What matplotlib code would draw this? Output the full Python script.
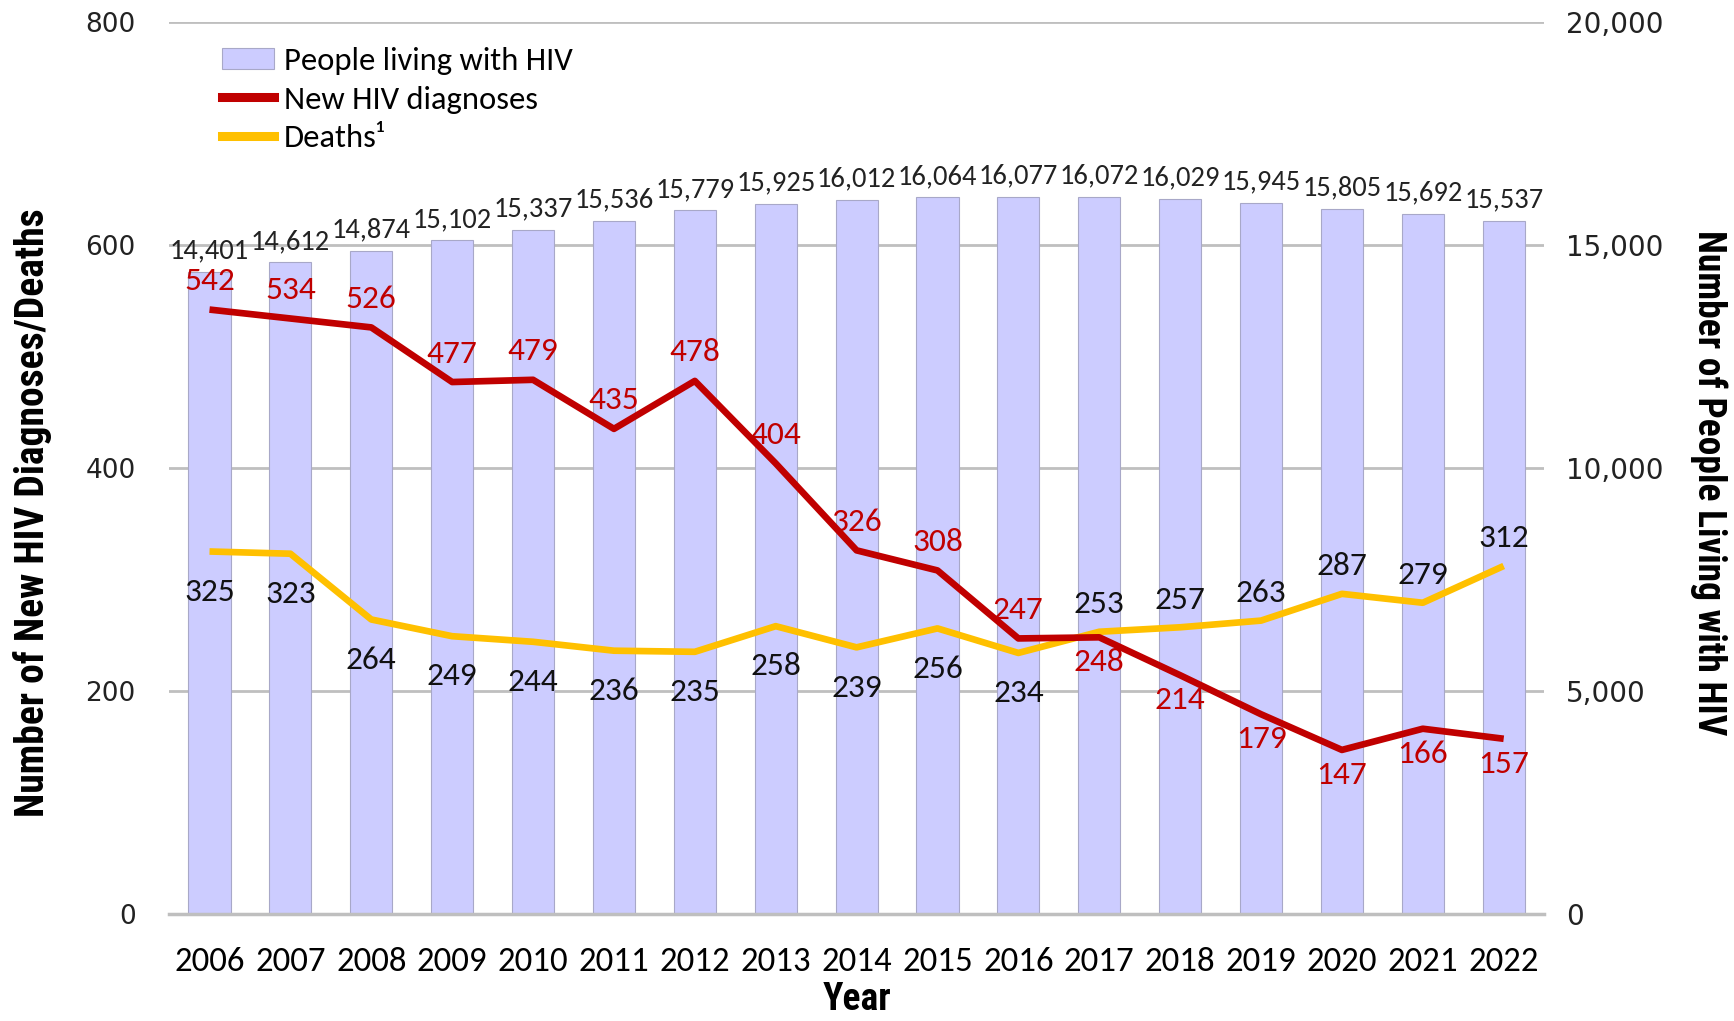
import matplotlib
matplotlib.use("Agg")
import matplotlib.pyplot as plt
from matplotlib import font_manager
from matplotlib.patches import Patch
from matplotlib.lines import Line2D
from matplotlib.ticker import FuncFormatter, MultipleLocator

years = [2006, 2007, 2008, 2009, 2010, 2011, 2012, 2013, 2014, 2015, 2016,
         2017, 2018, 2019, 2020, 2021, 2022]
living = [14401, 14612, 14874, 15102, 15337, 15536, 15779, 15925, 16012, 16064,
          16077, 16072, 16029, 15945, 15805, 15692, 15537]
new_dx = [542, 534, 526, 477, 479, 435, 478, 404, 326, 308, 247, 248, 214, 179,
          147, 166, 157]
deaths = [325, 323, 264, 249, 244, 236, 235, 258, 239, 256, 234, 253, 257, 263,
          287, 279, 312]

BAR_COLOR = "#CCCCFF"
RED = "#C00000"
GOLD = "#FFC000"
GRID = "#BFBFBF"


def pick_font(*names):
    have = {f.name for f in font_manager.fontManager.ttflist}
    for n in names:
        if n in have:
            return n
    return "DejaVu Sans"


BODY = pick_font("Carlito", "Lato", "Open Sans")
NARROW = pick_font("Liberation Sans Narrow", "Roboto Condensed", "Lato")

plt.rcParams["font.family"] = [BODY, "DejaVu Sans"]

fig = plt.figure(figsize=(17.34, 10.21), dpi=100)
ax2 = fig.add_axes([0.0975, 0.105, 0.793, 0.8735])
ax = ax2.twinx()
# lines axis in front of the bars axis, but ticks on the left
ax.yaxis.set_label_position("left")
ax.yaxis.tick_left()
ax2.yaxis.set_label_position("right")
ax2.yaxis.tick_right()

x = list(range(len(years)))

# bars: people living with HIV (right scale)
ax2.bar(x, living, width=0.52, color=BAR_COLOR, edgecolor="#A8A8C8",
        linewidth=0.8, zorder=2)
for xi, v in zip(x, living):
    ax2.annotate(f"{v:,}", (xi, v), xytext=(0, 15), textcoords="offset points",
                 ha="center", va="center", fontsize=20.5, color="#222222")
ax2.set_ylim(0, 20000)
ax2.yaxis.set_major_locator(MultipleLocator(5000))
ax2.yaxis.set_major_formatter(FuncFormatter(lambda v, p: f"{int(v):,}"))
ax2.grid(axis="y", color=GRID, lw=2)
ax2.set_axisbelow(True)

# lines (left scale)
ax.plot(x, new_dx, color=RED, lw=4.8, zorder=4, solid_capstyle="butt")
ax.plot(x, deaths, color=GOLD, lw=4.8, zorder=3, solid_capstyle="butt")
ax.set_ylim(0, 800)
ax.yaxis.set_major_locator(MultipleLocator(200))

for xi, (n, d) in enumerate(zip(new_dx, deaths)):
    if n > d:
        n_off, d_off = 20.5, -29
    else:
        n_off, d_off = -18, 20
    ax.annotate(str(n), (xi, n), xytext=(0, n_off), textcoords="offset points",
                ha="center", va="center", fontsize=24, color=RED, zorder=6)
    ax.annotate(str(d), (xi, d), xytext=(0, d_off), textcoords="offset points",
                ha="center", va="center", fontsize=24, color="#111111", zorder=6)

ax.set_xlim(-0.5, len(years) - 0.5)
ax2.set_xticks(x)
ax2.set_xticklabels([str(y) for y in years], fontsize=25)

for a in (ax, ax2):
    for s in a.spines.values():
        s.set_visible(False)
    a.tick_params(length=0)
ax2.spines["bottom"].set_visible(True)
ax2.spines["bottom"].set_color(GRID)
ax2.spines["bottom"].set_linewidth(2.5)

ax.tick_params(axis="y", pad=24, labelsize=19)
ax2.tick_params(axis="y", pad=16, labelsize=20)
ax2.tick_params(axis="x", pad=24)
for lab in ax.get_yticklabels() + ax2.get_yticklabels():
    lab.set_fontfamily("DejaVu Sans")
    lab.set_color("#222222")

ax.set_ylabel("Number of New HIV Diagnoses/Deaths", fontsize=28.5,
              fontweight="bold", family=[NARROW, "DejaVu Sans"], labelpad=24)
ax.yaxis.label.set_y(0.45)
ax2.set_ylabel("Number of People Living with HIV", fontsize=27,
               fontweight="bold", family=[NARROW, "DejaVu Sans"],
               rotation=270, labelpad=46)
ax2.yaxis.label.set_y(0.484)
ax2.set_xlabel("Year", fontsize=27, fontweight="bold",
               family=[NARROW, "DejaVu Sans"], labelpad=3)

handles = [
    Patch(facecolor=BAR_COLOR, edgecolor="#A8A8C8", lw=0.8),
    Line2D([], [], color=RED, lw=6.5),
    Line2D([], [], color=GOLD, lw=6.5),
]
labels = ["People living with HIV", "New HIV diagnoses", "Deaths\u00b9"]
ax.legend(handles, labels, loc="upper left", bbox_to_anchor=(0.024, 0.994),
          frameon=False, fontsize=23.5, handlelength=1.6, handleheight=0.65,
          handletextpad=0.3, labelspacing=0.33, borderaxespad=0.2)

fig.savefig("out.png", dpi=100)
